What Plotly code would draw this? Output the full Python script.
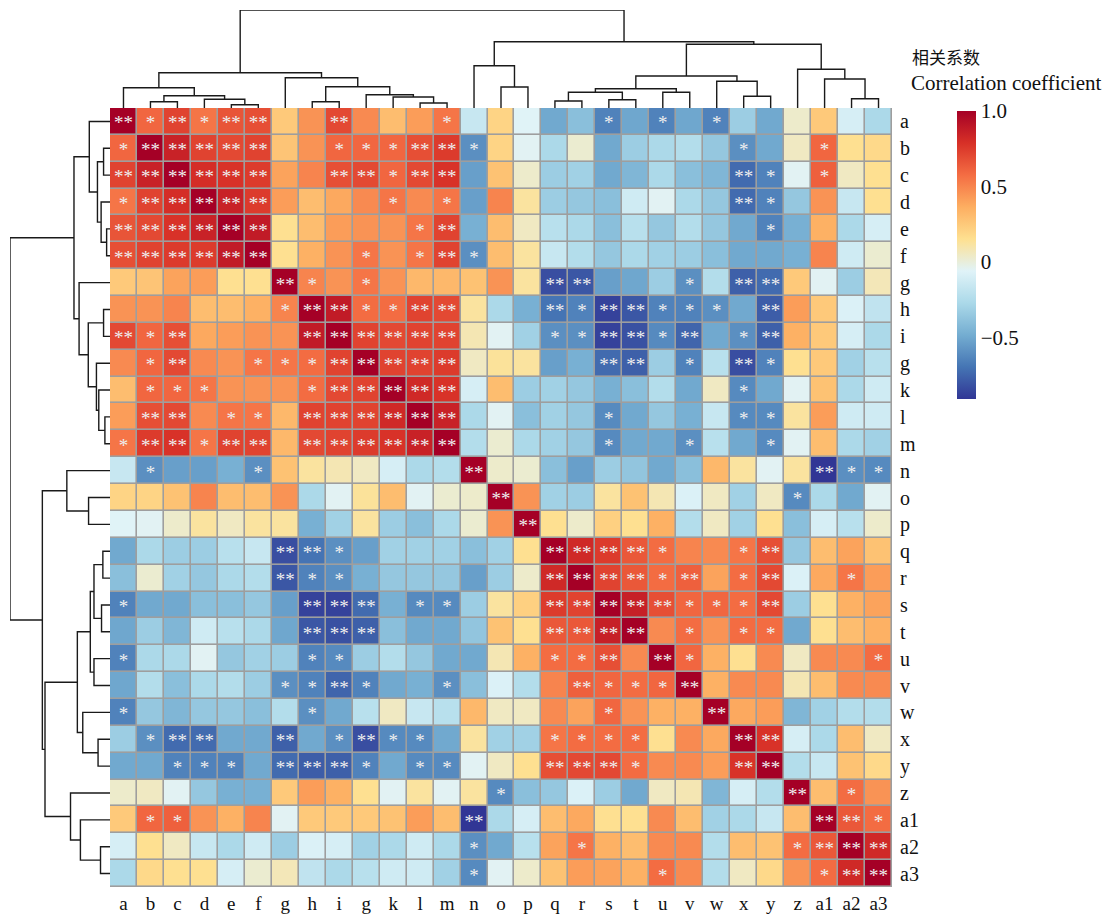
import plotly.graph_objects as go

labels = ["a", "b", "c", "d", "e", "f", "g", "h", "i", "g", "k", "l", "m",
          "n", "o", "p", "q", "r", "s", "t", "u", "v", "w", "x", "y", "z",
          "a1", "a2", "a3"]

# Upper triangle of the correlation matrix: row i holds columns i..28
corr_upper = [
    [1, .60, .72, .55, .66, .68, .25, .45, .70, .48, .30, .42, .55, -.16, .20, -.06, -.50, -.40, -.65, -.51, -.65, -.51, -.65, -.33, -.50, .03, .25, -.10, -.27],
    [1, .85, .72, .70, .72, .27, .45, .60, .60, .60, .68, .75, -.60, .20, -.05, -.27, .02, -.50, -.33, -.27, -.24, -.36, -.60, -.50, .05, .60, .15, .18],
    [1, .80, .78, .75, .40, .50, .68, .70, .60, .70, .78, -.54, .28, .03, -.33, -.31, -.50, -.44, -.27, -.40, -.44, -.73, -.65, -.05, .62, .05, .15],
    [1, .85, .75, .42, .30, .38, .48, .55, .48, .55, -.54, .50, .12, -.33, -.36, -.40, -.13, -.05, -.27, -.36, -.73, -.65, -.36, .45, -.16, .15],
    [1, .88, .15, .30, .42, .45, .45, .55, .72, -.47, .30, .05, -.22, -.27, -.40, -.22, -.36, -.24, -.36, -.50, -.65, -.47, .35, -.27, -.10],
    [1, .15, .35, .45, .55, .45, .55, .72, -.60, .30, .12, -.16, -.24, -.36, -.27, -.31, -.33, -.40, -.50, -.50, -.47, .50, -.13, .02],
    [1, .50, .45, .55, .45, .32, .32, .28, .45, .12, -.83, -.80, -.54, -.51, -.33, -.60, -.24, -.77, -.73, .25, -.05, -.33, .07],
    [1, .88, .58, .58, .72, .70, .12, -.27, -.47, -.70, -.65, -.87, -.80, -.65, -.65, -.60, -.50, -.78, .42, .25, -.08, -.19],
    [1, .72, .70, .72, .72, .08, -.05, -.31, -.60, -.60, -.87, -.82, -.62, -.75, -.50, -.60, -.77, .35, .25, -.10, -.27],
    [1, .72, .72, .75, .05, .13, .12, -.54, -.47, -.73, -.77, -.33, -.65, -.22, -.83, -.65, .15, .25, -.31, -.22],
    [1, .82, .78, -.10, .30, -.33, -.31, -.36, -.47, -.40, -.24, -.50, .05, -.62, -.50, -.05, .28, -.27, -.13],
    [1, .85, -.27, -.05, -.40, -.31, -.36, -.62, -.50, -.36, -.47, -.16, -.62, -.62, .12, .42, -.13, -.13],
    [1, -.24, .02, -.27, -.31, -.36, -.62, -.50, -.50, -.60, -.22, -.50, -.62, -.05, .30, -.27, -.31],
    [1, .03, .02, -.40, -.54, -.33, -.37, -.50, -.40, .32, .12, -.05, .12, -.91, -.60, -.62],
    [1, .45, -.31, -.33, .12, .28, .08, -.08, .05, -.31, .05, -.62, -.27, -.50, -.05],
    [1, .15, .03, .22, .15, .35, -.24, .05, -.31, .15, -.40, -.10, -.22, .03],
    [1, .82, .75, .65, .58, .50, .48, .55, .68, -.36, .30, .40, .28],
    [1, .72, .65, .58, .62, .40, .58, .70, -.08, .38, .55, .42],
    [1, .86, .68, .60, .60, .58, .70, -.33, .15, .35, .40],
    [1, .48, .58, .45, .58, .58, -.50, .15, .30, .35],
    [1, .60, .35, .15, .48, .05, .48, .48, .58],
    [1, .35, .48, .48, .08, .30, .48, .48],
    [1, .38, .42, -.44, -.31, -.24, -.24],
    [1, .78, -.10, -.27, .30, .05],
    [1, -.24, -.16, .28, .18],
    [1, .30, .58, .45],
    [1, .65, .58],
    [1, .82],
    [1],
]

# Significance marks (number of asterisks), same layout as corr_upper
stars_upper = [
    [2, 1, 2, 1, 2, 2, 0, 0, 2, 0, 0, 0, 1, 0, 0, 0, 0, 0, 1, 0, 1, 0, 1, 0, 0, 0, 0, 0, 0],
    [2, 2, 2, 2, 2, 0, 0, 1, 1, 1, 2, 2, 1, 0, 0, 0, 0, 0, 0, 0, 0, 0, 1, 0, 0, 1, 0, 0],
    [2, 2, 2, 2, 0, 0, 2, 2, 1, 2, 2, 0, 0, 0, 0, 0, 0, 0, 0, 0, 0, 2, 1, 0, 1, 0, 0],
    [2, 2, 2, 0, 0, 0, 0, 1, 0, 1, 0, 0, 0, 0, 0, 0, 0, 0, 0, 0, 2, 1, 0, 0, 0, 0],
    [2, 2, 0, 0, 0, 0, 0, 1, 2, 0, 0, 0, 0, 0, 0, 0, 0, 0, 0, 0, 1, 0, 0, 0, 0],
    [2, 0, 0, 0, 1, 0, 1, 2, 1, 0, 0, 0, 0, 0, 0, 0, 0, 0, 0, 0, 0, 0, 0, 0],
    [2, 1, 0, 1, 0, 0, 0, 0, 0, 0, 2, 2, 0, 0, 0, 1, 0, 2, 2, 0, 0, 0, 0],
    [2, 2, 1, 1, 2, 2, 0, 0, 0, 2, 1, 2, 2, 1, 1, 1, 0, 2, 0, 0, 0, 0],
    [2, 2, 2, 2, 2, 0, 0, 0, 1, 1, 2, 2, 1, 2, 0, 1, 2, 0, 0, 0, 0],
    [2, 2, 2, 2, 0, 0, 0, 0, 0, 2, 2, 0, 1, 0, 2, 1, 0, 0, 0, 0],
    [2, 2, 2, 0, 0, 0, 0, 0, 0, 0, 0, 0, 0, 1, 0, 0, 0, 0, 0],
    [2, 2, 0, 0, 0, 0, 0, 1, 0, 0, 0, 0, 1, 1, 0, 0, 0, 0],
    [2, 0, 0, 0, 0, 0, 1, 0, 0, 1, 0, 0, 1, 0, 0, 0, 0],
    [2, 0, 0, 0, 0, 0, 0, 0, 0, 0, 0, 0, 0, 2, 1, 1],
    [2, 0, 0, 0, 0, 0, 0, 0, 0, 0, 0, 1, 0, 0, 0],
    [2, 0, 0, 0, 0, 0, 0, 0, 0, 0, 0, 0, 0, 0],
    [2, 2, 2, 2, 1, 0, 0, 1, 2, 0, 0, 0, 0],
    [2, 2, 2, 1, 2, 0, 1, 2, 0, 0, 1, 0],
    [2, 2, 2, 1, 1, 1, 2, 0, 0, 0, 0],
    [2, 0, 1, 0, 1, 1, 0, 0, 0, 0],
    [2, 1, 0, 0, 0, 0, 0, 0, 1],
    [2, 0, 0, 0, 0, 0, 0, 0],
    [2, 0, 0, 0, 0, 0, 0],
    [2, 2, 0, 0, 0, 0],
    [2, 0, 0, 0, 0],
    [2, 0, 1, 0],
    [2, 2, 1],
    [2, 2],
    [2],
]

# Hierarchical clustering merges: (left node, right node, height).
# Nodes 0..28 are leaves; merge k creates node 29 + k.
merges = [
    (1, 2, 6.3), (4, 5, 3.3), (3, 30, 8.7), (29, 31, 12.3), (0, 32, 20.3),
    (7, 8, 6.3), (11, 12, 5.0), (10, 35, 11.0), (9, 36, 13.3), (34, 37, 21.3),
    (6, 38, 30.3), (33, 39, 35.3), (14, 15, 21.0), (13, 41, 42.3),
    (16, 17, 7.0), (18, 19, 8.3), (43, 44, 15.7), (20, 21, 15.7), (45, 46, 19.3),
    (23, 24, 11.7), (22, 48, 26.7), (47, 49, 32.0), (27, 28, 9.3), (26, 51, 29.0),
    (25, 52, 38.7), (50, 53, 63.7), (42, 54, 66.3), (40, 55, 98.0),
]

cbar_ticks = [-0.5, 0, 0.5, 1.0]
cbar_text = ["\u22120.5", "0", "0.5", "1.0"]
zmin, zmax = -0.91, 1.0

n = len(labels)
z = [[0.0] * n for _ in range(n)]
stars = [[0] * n for _ in range(n)]
for i in range(n):
    assert len(corr_upper[i]) == n - i and len(stars_upper[i]) == n - i
    for k, (v, s) in enumerate(zip(corr_upper[i], stars_upper[i])):
        j = i + k
        z[i][j] = z[j][i] = v
        stars[i][j] = stars[j][i] = s

# dendrogram segments (U-shaped links)
pos = {i: float(i) for i in range(n)}
hgt = {i: 0.0 for i in range(n)}
seg_p, seg_h = [], []
for k, (a, b, h) in enumerate(merges):
    node = n + k
    pa, pb = pos[a], pos[b]
    seg_p += [pa, pa, pb, pb, None]
    seg_h += [hgt[a], h, h, hgt[b], None]
    pos[node] = (pa + pb) / 2
    hgt[node] = h

W, H = 1107, 917
hm_x0, hm_x1 = 110, 892
hm_y0, hm_y1 = 108, 887
serif = "Liberation Serif, Times New Roman, serif"

# reversed 10-class RdYlBu ramp
ramp = ["#313695", "#4575B4", "#74ADD1", "#ABD9E9", "#E0F3F8",
        "#FEE090", "#FDAE61", "#F46D43", "#D73027", "#A50026"]
colorscale = [[i / (len(ramp) - 1), c] for i, c in enumerate(ramp)]

fig = go.Figure()

fig.add_trace(go.Heatmap(
    z=z, x=list(range(n)), y=list(range(n)),
    zmin=zmin, zmax=zmax, colorscale=colorscale,
    xgap=1.6, ygap=1.6, hoverinfo="skip",
    colorbar=dict(
        x=957 / W, xanchor="left", y=1 - 111 / H, yanchor="top",
        len=288 / H, lenmode="fraction", thickness=19, thicknessmode="pixels",
        xpad=0, ypad=0, outlinewidth=0, ticks="",
        tickvals=cbar_ticks, ticktext=cbar_text,
        tickfont=dict(family=serif, size=21, color="#111"),
    ),
))

sx, sy, st = [], [], []
for i in range(n):
    for j in range(n):
        if stars[i][j]:
            sx.append(j)
            sy.append(i + 0.12)
            st.append("*" * stars[i][j])
fig.add_trace(go.Scatter(
    x=sx, y=sy, text=st, mode="text", textposition="middle center",
    textfont=dict(family=serif, size=19, color="#EEEEEE"), hoverinfo="skip",
    showlegend=False,
))

# top dendrogram
fig.add_trace(go.Scatter(
    x=seg_p, y=seg_h, mode="lines", line=dict(color="#1a1a1a", width=1.4),
    xaxis="x2", yaxis="y2", hoverinfo="skip", showlegend=False,
))
# left dendrogram
fig.add_trace(go.Scatter(
    x=seg_h, y=seg_p, mode="lines", line=dict(color="#1a1a1a", width=1.4),
    xaxis="x3", yaxis="y3", hoverinfo="skip", showlegend=False,
))

dx = [hm_x0 / W, hm_x1 / W]
dy = [1 - hm_y1 / H, 1 - hm_y0 / H]
hidden = dict(showgrid=False, zeroline=False, showticklabels=False, ticks="",
              showline=False)

fig.update_layout(
    width=W, height=H, margin=dict(l=0, r=0, t=0, b=0),
    paper_bgcolor="white", plot_bgcolor="white", showlegend=False,
    xaxis=dict(domain=dx, range=[-0.5, n - 0.5], tickvals=list(range(n)),
               ticktext=labels, showgrid=False, zeroline=False, ticks="",
               ticklabelstandoff=3,
               tickfont=dict(family=serif, size=19, color="#111"),
               automargin=False),
    yaxis=dict(domain=dy, range=[n - 0.5, -0.5], tickvals=list(range(n)),
               ticktext=labels, side="right", showgrid=False, zeroline=False,
               ticks="", ticklabelstandoff=7,
               tickfont=dict(family=serif, size=20, color="#111"),
               automargin=False),
    xaxis2=dict(domain=dx, range=[-0.5, n - 0.5], anchor="y2", **hidden),
    yaxis2=dict(domain=[1 - hm_y0 / H, 1 - 10 / H], range=[0, 98], anchor="x2",
                **hidden),
    xaxis3=dict(domain=[10 / W, hm_x0 / W], range=[98, 0], anchor="y3", **hidden),
    yaxis3=dict(domain=dy, range=[n - 0.5, -0.5], anchor="x3", **hidden),
    shapes=[dict(type="rect", xref="x", yref="y", x0=-0.5, x1=n - 0.5,
                 y0=-0.5, y1=n - 0.5, fillcolor="#9E9E9E",
                 line=dict(color="#9E9E9E", width=1.5), layer="below")],
    annotations=[
        dict(text="相关系数", x=910 / W, y=1 - 57 / H, xref="paper", yref="paper",
             xanchor="left", yanchor="middle", showarrow=False,
             font=dict(family="Noto Sans CJK SC", size=17, color="#111")),
        dict(text="Correlation coefficient", x=909 / W, y=1 - 83 / H,
             xref="paper", yref="paper", xanchor="left", yanchor="middle",
             showarrow=False, font=dict(family=serif, size=21, color="#111")),
    ],
)

fig.write_html("out.html")
